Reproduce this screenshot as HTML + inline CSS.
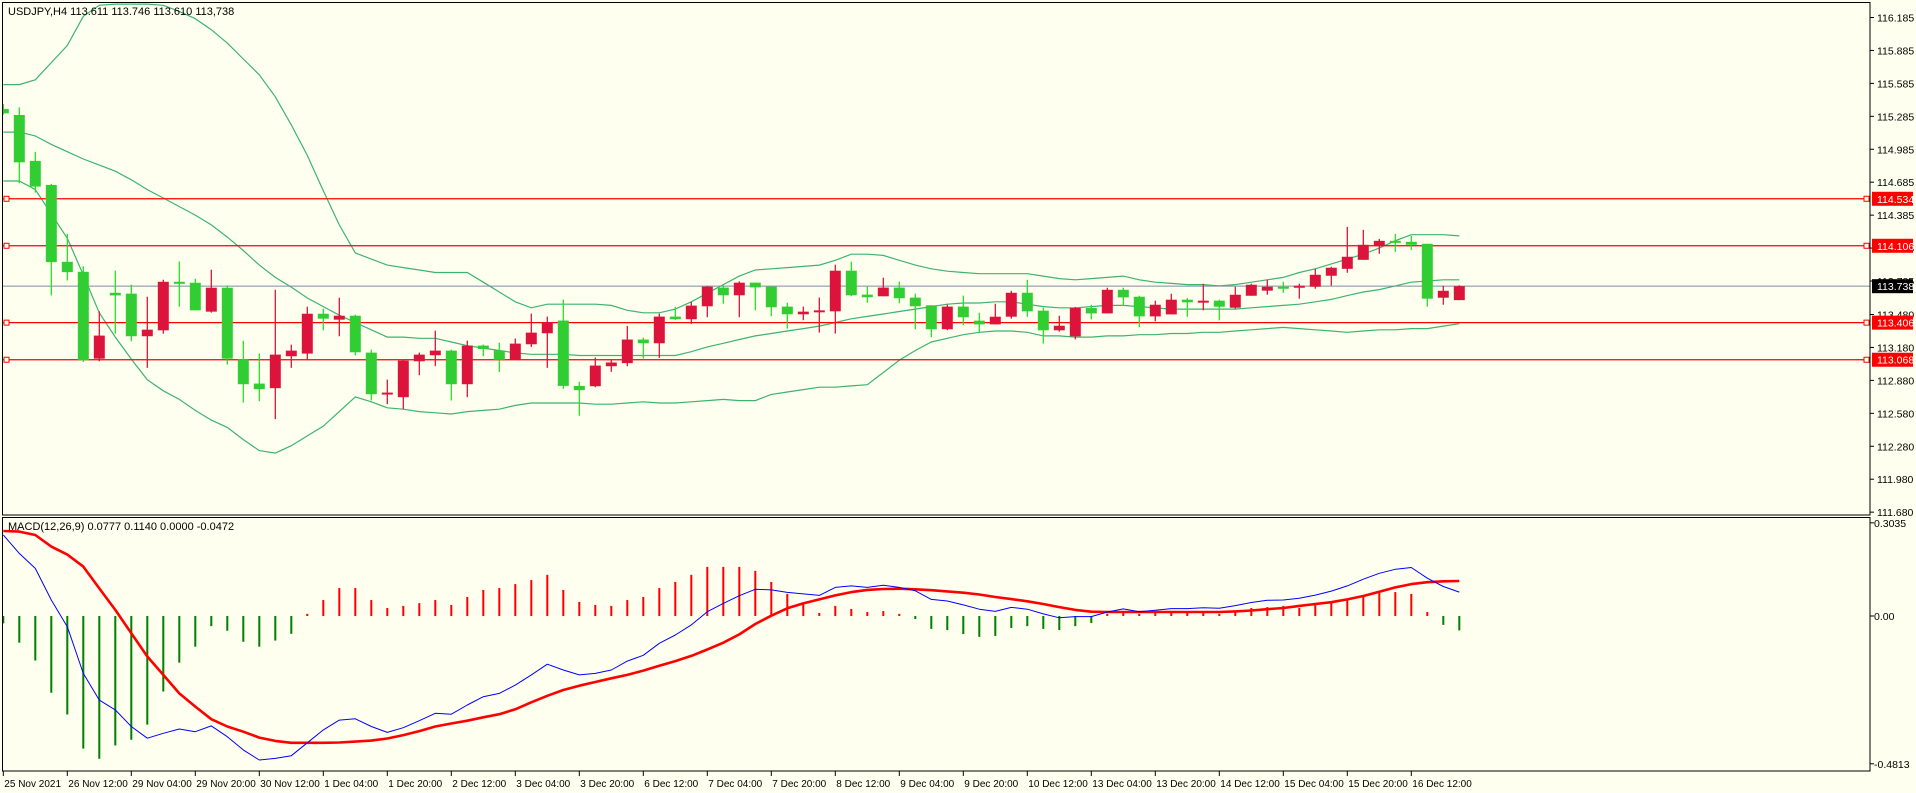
<!DOCTYPE html>
<html>
<head>
<meta charset="utf-8">
<style>
html,body{margin:0;padding:0;background:#fffff0;}
svg{display:block;font-family:"Liberation Sans","DejaVu Sans",sans-serif;}
</style>
</head>
<body>
<svg id="chart" width="1916" height="793" viewBox="0 0 1916 793" xmlns="http://www.w3.org/2000/svg">
  <rect x="0" y="0" width="1916" height="793" fill="#fffff0"/>
  <defs>
    <clipPath id="mainClip"><rect x="3" y="3" width="1867" height="512"/></clipPath>
    <clipPath id="macdClip"><rect x="3" y="518" width="1867" height="253"/></clipPath>
  </defs>
  <g id="mainPlot" clip-path="url(#mainClip)"></g>
  <g id="macdPlot" clip-path="url(#macdClip)"></g>
  <g id="overlay"></g>
  <rect x="2.5" y="2.5" width="1867.5" height="512.5" fill="none" stroke="#000" stroke-width="1"/>
  <rect x="2.5" y="517.5" width="1867.5" height="253.5" fill="none" stroke="#000" stroke-width="1"/>
  <text x="8" y="15" font-size="11" fill="#000">USDJPY,H4  113.611 113.746 113.610 113,738</text>
  <text x="8" y="530" font-size="11" fill="#000">MACD(12,26,9) 0.0777 0.1140 0.0000 -0.0472</text>
</svg>
<script>
const opens=[115.351,115.297,114.879,114.66,113.96,113.869,113.078,113.678,113.67,113.282,113.336,113.778,113.769,113.506,113.724,113.072,112.851,112.809,113.1,113.124,113.487,113.433,113.469,113.133,112.754,112.727,113.054,113.109,113.151,112.845,113.197,113.152,113.067,113.209,113.309,113.425,112.83,112.827,113.009,113.037,113.252,113.218,113.461,113.437,113.555,113.725,113.655,113.77,113.734,113.552,113.482,113.5,113.509,113.879,113.661,113.646,113.725,113.634,113.564,113.346,113.552,113.424,113.39,113.46,113.678,113.515,113.336,113.281,113.539,113.49,113.705,113.642,113.463,113.481,113.615,113.591,113.606,113.542,113.651,113.697,113.733,113.724,113.733,113.833,113.896,113.978,114.103,114.151,114.142,114.124,113.633,113.611];
const highs=[115.397,115.366,114.96,114.67,114.215,113.92,113.509,113.88,113.751,113.642,113.797,113.963,113.806,113.888,113.745,113.242,113.124,113.706,113.206,113.551,113.533,113.633,113.478,113.16,112.887,113.07,113.133,113.333,113.16,113.242,113.206,113.224,113.261,113.488,113.461,113.615,112.867,113.088,113.073,113.376,113.27,113.488,113.549,113.594,113.74,113.746,113.782,113.77,113.734,113.588,113.552,113.634,113.934,113.961,113.734,113.815,113.779,113.67,113.564,113.57,113.652,113.496,113.578,113.696,113.796,113.542,113.469,113.548,113.569,113.724,113.724,113.651,113.606,113.669,113.63,113.76,113.615,113.733,113.76,113.796,113.778,113.76,113.896,113.915,114.278,114.251,114.169,114.215,114.196,114.124,113.742,113.746];
const lows=[115.30,114.675,114.59,113.654,113.79,113.048,113.054,113.306,113.236,112.994,113.306,113.551,113.518,113.497,113.024,112.678,112.69,112.527,112.994,113.063,113.336,113.282,113.109,112.697,112.663,112.618,112.927,113.009,112.697,112.727,113.1,112.957,113.064,113.185,112.994,112.803,112.558,112.818,112.958,113.009,113.079,113.085,113.43,113.394,113.455,113.579,113.455,113.518,113.464,113.352,113.428,113.315,113.306,113.646,113.588,113.646,113.582,113.346,113.273,113.337,113.382,113.321,113.39,113.442,113.46,113.215,113.324,113.254,113.436,113.49,113.557,113.363,113.418,113.481,113.46,113.518,113.427,113.533,113.651,113.66,113.678,113.624,113.715,113.742,113.86,113.978,114.033,114.051,114.069,113.551,113.569,113.610];
const closes=[115.312,114.866,114.645,113.957,113.866,113.063,113.288,113.654,113.282,113.342,113.778,113.76,113.518,113.724,113.078,112.845,112.8,113.115,113.151,113.487,113.442,113.469,113.136,112.754,112.769,113.06,113.115,113.151,112.845,113.197,113.166,113.067,113.215,113.315,113.412,112.83,112.791,113.015,113.043,113.252,113.218,113.461,113.437,113.561,113.734,113.655,113.77,113.727,113.546,113.482,113.506,113.518,113.879,113.655,113.637,113.725,113.628,113.555,113.346,113.552,113.455,113.39,113.46,113.678,113.509,113.336,113.378,113.539,113.49,113.705,113.636,113.463,113.569,113.615,113.591,113.606,113.551,113.66,113.751,113.733,113.718,113.742,113.842,113.906,114.006,114.115,114.151,114.142,114.115,113.624,113.696,113.738];
const bandUpper=[115.574,115.574,115.618,115.774,115.93,116.196,116.296,116.307,116.307,116.307,116.296,116.241,116.174,116.074,115.952,115.807,115.663,115.463,115.207,114.929,114.607,114.296,114.041,113.985,113.93,113.907,113.885,113.863,113.863,113.863,113.774,113.685,113.596,113.541,113.574,113.574,113.574,113.574,113.563,113.518,113.496,113.496,113.529,113.596,113.674,113.752,113.83,113.885,113.896,113.907,113.918,113.93,113.974,114.029,114.029,114.018,113.974,113.93,113.896,113.874,113.863,113.852,113.852,113.852,113.852,113.83,113.807,113.796,113.807,113.818,113.83,113.796,113.774,113.763,113.752,113.752,113.741,113.752,113.774,113.796,113.818,113.863,113.896,113.941,113.985,114.029,114.085,114.152,114.207,114.207,114.207,114.196];
const bandMiddle=[115.141,115.141,115.107,115.029,114.963,114.896,114.841,114.785,114.707,114.618,114.541,114.463,114.385,114.296,114.185,114.063,113.93,113.818,113.73,113.63,113.552,113.474,113.407,113.341,113.274,113.274,113.263,113.263,113.23,113.196,113.174,113.152,113.13,113.118,113.118,113.118,113.107,113.107,113.107,113.107,113.107,113.107,113.107,113.141,113.185,113.218,113.252,113.285,113.307,113.33,113.352,113.374,113.407,113.441,113.463,113.485,113.507,113.529,113.552,113.574,113.585,113.585,113.596,113.596,113.574,113.552,113.541,113.541,113.552,113.563,113.563,113.552,113.541,113.529,113.529,113.529,113.529,113.529,113.541,113.552,113.563,113.574,113.596,113.618,113.652,113.685,113.707,113.741,113.774,113.785,113.796,113.796];
const bandLower=[114.696,114.696,114.618,114.396,114.174,113.841,113.496,113.274,113.074,112.885,112.785,112.707,112.607,112.518,112.452,112.341,112.241,112.218,112.285,112.374,112.463,112.596,112.73,112.685,112.63,112.618,112.596,112.585,112.574,112.596,112.607,112.618,112.652,112.674,112.674,112.674,112.674,112.663,112.663,112.674,112.685,112.674,112.674,112.685,112.696,112.707,112.696,112.696,112.752,112.774,112.796,112.818,112.818,112.83,112.841,112.952,113.063,113.152,113.23,113.263,113.296,113.318,113.33,113.33,113.318,113.285,113.285,113.274,113.274,113.285,113.285,113.296,113.296,113.307,113.307,113.318,113.318,113.33,113.341,113.352,113.363,113.352,113.341,113.33,113.318,113.33,113.341,113.341,113.352,113.352,113.374,113.396];
const macdHist=[-0.024,-0.087,-0.145,-0.25,-0.321,-0.432,-0.465,-0.422,-0.403,-0.354,-0.246,-0.152,-0.1,-0.033,-0.048,-0.084,-0.1,-0.08,-0.058,0.007,0.052,0.091,0.091,0.052,0.026,0.033,0.042,0.052,0.036,0.062,0.085,0.091,0.104,0.117,0.134,0.085,0.046,0.036,0.033,0.052,0.062,0.091,0.111,0.134,0.16,0.16,0.16,0.147,0.111,0.072,0.039,0.01,0.033,0.023,0.013,0.016,0.007,-0.01,-0.042,-0.046,-0.059,-0.068,-0.065,-0.039,-0.033,-0.042,-0.046,-0.033,-0.023,0.007,0.013,0.007,0.013,0.013,0.013,0.016,0.007,0.013,0.026,0.029,0.033,0.026,0.042,0.046,0.052,0.068,0.075,0.078,0.072,0.013,-0.029,-0.047];
const macdMain=[0.264,0.204,0.155,0.052,-0.035,-0.187,-0.274,-0.306,-0.36,-0.398,-0.382,-0.368,-0.377,-0.358,-0.393,-0.436,-0.469,-0.464,-0.455,-0.413,-0.371,-0.339,-0.335,-0.36,-0.379,-0.364,-0.341,-0.317,-0.32,-0.29,-0.263,-0.252,-0.225,-0.192,-0.157,-0.176,-0.192,-0.187,-0.176,-0.147,-0.128,-0.089,-0.062,-0.029,0.014,0.041,0.066,0.087,0.085,0.077,0.072,0.067,0.093,0.098,0.093,0.1,0.093,0.082,0.054,0.049,0.036,0.022,0.015,0.028,0.022,0.007,-0.006,-0.002,-0.002,0.013,0.023,0.014,0.019,0.024,0.024,0.027,0.025,0.034,0.044,0.051,0.052,0.058,0.068,0.081,0.098,0.12,0.139,0.152,0.158,0.123,0.096,0.078];
const macdSignal=[0.277,0.275,0.264,0.226,0.2,0.161,0.09,0.02,-0.056,-0.132,-0.192,-0.252,-0.295,-0.336,-0.36,-0.377,-0.396,-0.407,-0.413,-0.413,-0.413,-0.412,-0.409,-0.406,-0.399,-0.388,-0.375,-0.36,-0.35,-0.341,-0.33,-0.32,-0.304,-0.281,-0.26,-0.241,-0.227,-0.215,-0.203,-0.192,-0.178,-0.162,-0.147,-0.13,-0.109,-0.087,-0.06,-0.026,0.001,0.025,0.041,0.054,0.067,0.078,0.085,0.088,0.089,0.087,0.084,0.08,0.076,0.07,0.062,0.055,0.048,0.039,0.029,0.02,0.014,0.013,0.013,0.013,0.013,0.013,0.013,0.013,0.013,0.015,0.018,0.022,0.026,0.033,0.039,0.045,0.054,0.065,0.079,0.093,0.104,0.11,0.113,0.114];
const levelPrices=[114.534,114.106,113.406,113.068];
const levelLabels=["114.534","114.106","113.406","113.068"];
const currentPrice=113.738;
const currentLabel="113.738";
const priceTicks=[116.185,115.885,115.585,115.285,114.985,114.685,114.385,114.085,113.785,113.480,113.180,112.880,112.580,112.280,111.980,111.680];
const priceTickLabels=["116.185","115.885","115.585","115.285","114.985","114.685","114.385","114.085","113.785","113.480","113.180","112.880","112.580","112.280","111.980","111.680"];
const macdTicks=[0.3035,0,-0.4813];
const macdTickLabels=["0.3035","0.00","-0.4813"];
const timeLabelBars=[0,4,8,12,16,20,24,28,32,36,40,44,48,52,56,60,64,68,72,76,80,84,88];
const timeLabels=["25 Nov 2021","26 Nov 12:00","29 Nov 04:00","29 Nov 20:00","30 Nov 12:00","1 Dec 04:00","1 Dec 20:00","2 Dec 12:00","3 Dec 04:00","3 Dec 20:00","6 Dec 12:00","7 Dec 04:00","7 Dec 20:00","8 Dec 12:00","9 Dec 04:00","9 Dec 20:00","10 Dec 12:00","13 Dec 04:00","13 Dec 20:00","14 Dec 12:00","15 Dec 04:00","15 Dec 20:00","16 Dec 12:00"];

const NS="http://www.w3.org/2000/svg";
function xOf(i){return 3.3+16*i;}
function yP(p){return 17.5+(116.185-p)*109.8;}
function yM(v){return 616-v*307;}
function mk(tag,attrs,parent){const e=document.createElementNS(NS,tag);for(const k in attrs)e.setAttribute(k,attrs[k]);parent.appendChild(e);return e;}
const mainG=document.getElementById('mainPlot');
const macdG=document.getElementById('macdPlot');
const ov=document.getElementById('overlay');

function band(arr,name){
  const pts=arr.map((v,i)=>xOf(i).toFixed(1)+','+yP(v).toFixed(1)).join(' ');
  const pl=mk('polyline',{points:pts,fill:'none',stroke:'#3cb371','stroke-width':1.2},mainG);
  
  
}
band(bandUpper,'bollinger-upper');
band(bandMiddle,'bollinger-middle');
band(bandLower,'bollinger-lower');

const cl=mk('line',{x1:3,x2:1870,y1:yP(currentPrice),y2:yP(currentPrice),stroke:'#7b8ca0','stroke-width':1},mainG);



levelPrices.forEach((p,k)=>{
  const y=yP(p);
  const l=mk('line',{x1:3,x2:1870,y1:y,y2:y,stroke:'#ff0000','stroke-width':1.3},mainG);
  
  
  const s1=mk('rect',{x:4,y:y-2.5,width:5,height:5,fill:'#fffff0',stroke:'#ff0000','stroke-width':1},ov);
  
  
  const s2=mk('rect',{x:1864,y:y-2.5,width:5,height:5,fill:'#fffff0',stroke:'#ff0000','stroke-width':1},ov);
  
  
});

for(let i=0;i<opens.length;i++){
  const bull=closes[i]>=opens[i];
  const x=xOf(i);
  const g=mk('g',{},mainG);
  
  
  mk('line',{x1:x,x2:x,y1:yP(highs[i]),y2:yP(lows[i]),stroke:bull?'#dc143c':'#22e022','stroke-width':1.3},g);
  const top=yP(Math.max(opens[i],closes[i])), bot=yP(Math.min(opens[i],closes[i]));
  mk('rect',{x:x-5.5,y:top,width:11,height:Math.max(bot-top,2),fill:bull?'#dc143c':'#32cd32'},g);
}

for(let i=0;i<macdHist.length;i++){
  const v=macdHist[i], x=xOf(i);
  const b=mk('line',{x1:x,x2:x,y1:yM(0),y2:yM(v),stroke:v>=0?'#ff0000':'#008000','stroke-width':2},macdG);
  
  
}
function mline(arr,color,w,name){
  const pts=arr.map((v,i)=>xOf(i).toFixed(1)+','+yM(v).toFixed(1)).join(' ');
  const pl=mk('polyline',{points:pts,fill:'none',stroke:color,'stroke-width':w,'stroke-linejoin':'round'},macdG);
  
  
}
mline(macdSignal,'#ff0000',2.6,'macd-signal-line');
mline(macdMain,'#0000ff',1,'macd-main-line');

priceTicks.forEach((p,k)=>{
  const y=yP(p);
  mk('line',{x1:1870,x2:1874,y1:y,y2:y,stroke:'#000'},ov);
  const t=mk('text',{x:1877,y:y+4,'font-size':10.5,fill:'#000'},ov);
  t.textContent=priceTickLabels[k];
  
  
});
levelPrices.forEach((p,k)=>{
  const y=yP(p);
  const r=mk('rect',{x:1872,y:y-7,width:41,height:14,fill:'#ff0000'},ov);
  
  
  const t=mk('text',{x:1877,y:y+4,'font-size':10.5,fill:'#fff'},ov);
  t.textContent=levelLabels[k];
  
  
});
{
  const y=yP(currentPrice);
  const r=mk('rect',{x:1872,y:y-7,width:41,height:14,fill:'#000'},ov);
  
  
  const t=mk('text',{x:1877,y:y+4,'font-size':10.5,fill:'#fff'},ov);
  t.textContent=currentLabel;
  
  
}
macdTicks.forEach((v,k)=>{
  const y=yM(v);
  mk('line',{x1:1870,x2:1874,y1:y,y2:y,stroke:'#000'},ov);
  const t=mk('text',{x:1874,y:y+4,'font-size':10.5,fill:'#000'},ov);
  t.textContent=macdTickLabels[k];
  
  
});
timeLabelBars.forEach((b,k)=>{
  const x=xOf(b);
  mk('line',{x1:x,x2:x,y1:771,y2:776,stroke:'#000'},ov);
  const t=mk('text',{x:x+1,y:787,'font-size':10,fill:'#000'},ov);
  t.textContent=timeLabels[k];
  
  
});
</script>
</body>
</html>
